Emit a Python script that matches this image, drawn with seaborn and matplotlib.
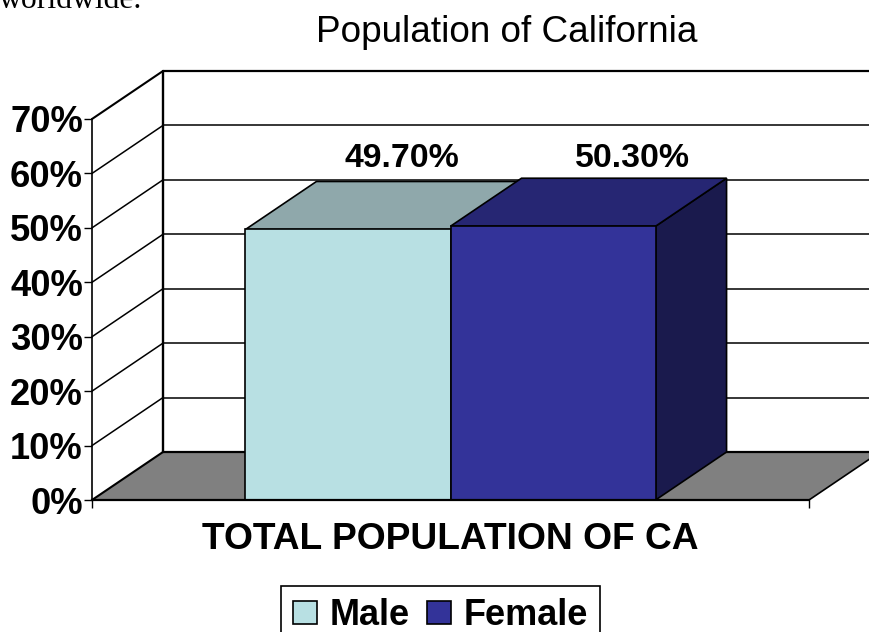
import matplotlib
matplotlib.use("Agg")
import matplotlib.pyplot as plt
import numpy as np
import pandas as pd
import seaborn as sns

category = ["TOTAL POPULATION OF CA"]
series_names = ["Male", "Female"]
series_values = [49.7, 50.3]
value_labels = ["49.70%", "50.30%"]
y_ticks = [0, 10, 20, 30, 40, 50, 60, 70]
front_colors = ["#B8E0E3", "#333399"]
top_colors = ["#8FA8AB", "#262673"]
side_colors = ["#8FA8AB", "#1A1A4D"]

W, H = 869, 632
sns.set_theme(style="white")
plt.rcParams["font.family"] = ["Liberation Sans", "DejaVu Sans"]

fig = plt.figure(figsize=(W / 100, H / 100), dpi=100)
ax = fig.add_axes([92 / W, (H - 500) / H, (809 - 92) / W, (500 - 119) / H])

df = pd.DataFrame({"cat": category * 2, "sex": series_names, "pct": series_values})
sns.barplot(data=df, x="cat", y="pct", hue="sex", hue_order=series_names,
            palette=front_colors, width=0.572, gap=0, saturation=1,
            edgecolor="black", linewidth=1.2, zorder=6, ax=ax)
ax.set_xlim(-0.5, 0.5)
ax.set_ylim(0, 70)

# depth of the 3-D look, in data units
dx = 71 / 717
dy = 48 / 381 * 70
x0, x1 = ax.get_xlim()
LC = "black"

# walls and floor
ax.fill([x0, x1, x1 + dx, x0 + dx], [0, 0, dy, dy], color="#808080", lw=0, zorder=1.5, clip_on=False)
for v in y_ticks:
    lw = 1.5 if v in (0, 70) else 1.1
    ax.plot([x0, x0 + dx], [v, v + dy], color=LC, lw=lw, zorder=2, clip_on=False)
    ax.plot([x0 + dx, x1 + dx], [v + dy, v + dy], color=LC, lw=1.6 if v in (0, 70) else 1.1,
            zorder=2, clip_on=False)
ax.plot([x0 + dx, x0 + dx], [dy, 70 + dy], color=LC, lw=1.7, zorder=2, clip_on=False)
ax.plot([x1, x1 + dx], [0, dy], color=LC, lw=1.2, zorder=2, clip_on=False)

# 3-D bar faces taken from the drawn bars
bars = [c[0] for c in ax.containers]
for i, b in enumerate(bars):
    l, r, t = b.get_x(), b.get_x() + b.get_width(), b.get_height()
    ax.fill([l, r, r + dx, l + dx], [t, t, t + dy, t + dy], facecolor=top_colors[i],
            edgecolor="black", lw=1.2, zorder=4 + i, clip_on=False)
    ax.fill([r, r + dx, r + dx, r], [0, dy, t + dy, t], facecolor=side_colors[i],
            edgecolor="black", lw=1.2, zorder=3 + i, clip_on=False)

# data labels
label_shift = [53.5 / 717, 79.5 / 717]
for b, txt, s in zip(bars, value_labels, label_shift):
    ax.text(b.get_x() + b.get_width() / 2 + s, 62.7, txt, ha="center", va="center",
            fontsize=24.4, fontweight="bold", color="black", zorder=8, clip_on=False)

# axes
sns.despine(ax=ax, top=True, right=True)
for s in ("left", "bottom"):
    ax.spines[s].set_color("black")
    ax.spines[s].set_zorder(7)
ax.spines["left"].set_linewidth(1.2)
ax.spines["bottom"].set_linewidth(1.6)
ax.set_yticks(y_ticks)
ax.set_yticklabels([f"{v}%" for v in y_ticks], fontsize=26.2, fontweight="bold", color="black")
ax.set_xticks([x0, x1])
ax.set_xticklabels(["", ""])
ax.tick_params(axis="both", which="major", length=5.5, width=1, color="black", left=True, bottom=True, pad=1)
ax.set_ylabel("")
ax.set_xlabel(category[0], fontsize=26.7, fontweight="bold", color="black", labelpad=9)

# legend
handles, labels = ax.get_legend_handles_labels()
leg = ax.legend(handles, labels, loc="upper left", bbox_to_anchor=(281 / W, (H - 586) / H),
                bbox_transform=fig.transFigure, ncol=2, frameon=True, fancybox=False,
                edgecolor="black", framealpha=1, borderaxespad=0, borderpad=0.33,
                handlelength=0.67, handleheight=0.62, handletextpad=0.35, columnspacing=0.48,
                title=None, labelcolor="black",
                prop={"size": 26, "weight": "bold", "family": "Liberation Sans"})
leg.get_frame().set_linewidth(1.2)
for h in leg.legend_handles:
    h.set_edgecolor("black")
    h.set_linewidth(1.2)

fig.text(507 / W, 1 - 32 / H, "Population of California", ha="center", va="center",
         fontsize=26.6, color="black")
fig.text(-1 / W, 1 - 8 / H, "worldwide.", ha="left", va="baseline", fontsize=22.8,
         family="Liberation Serif", color="black")

fig.savefig("out.png", dpi=100)
